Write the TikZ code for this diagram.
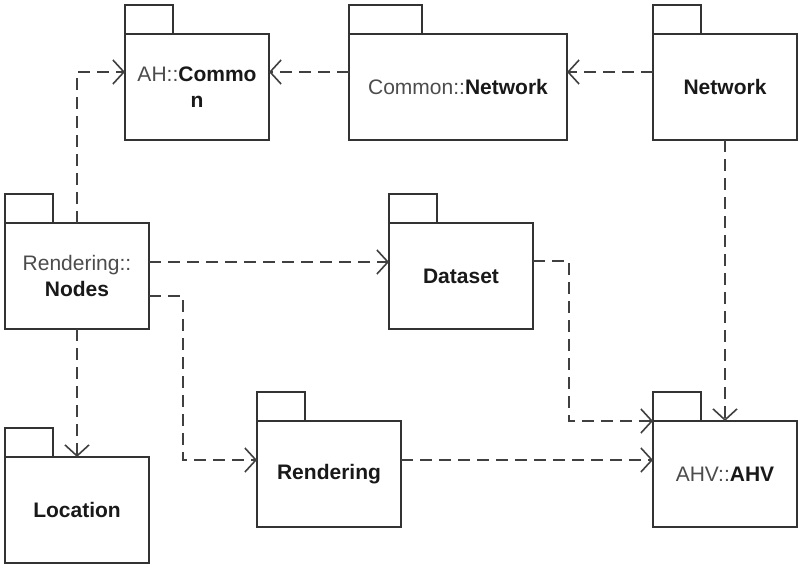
\documentclass[tikz,border=0pt]{standalone}
\usepackage{fontspec}
\setmainfont{Liberation Sans}
\usetikzlibrary{arrows.meta,calc}
\tikzset{
  pkg/.style={draw=black!80,line width=1.8pt,minimum width=144pt,minimum height=106pt,
    inner sep=0pt,outer sep=0pt,align=center,text=black!70,font=\fontsize{21}{26.5}\selectfont},
  dep/.style={draw=black!75,line width=1.6pt,dash pattern=on 12pt off 7pt,
    -{Straight Barb[length=11pt,width=24pt,line width=1.6pt]}}
}
\newcommand{\nm}[1]{\textbf{\color{black!90}#1}}
\begin{document}
\begin{tikzpicture}[x=1pt,y=-1pt]
\useasboundingbox[fill=white] (0,0) rectangle (799,564);
\node[pkg] (common) at (197,87) {AH::\nm{Commo}\\\nm{n}};
\node[pkg,minimum width=218pt] (cnet) at (458,87) {Common::\nm{Network}};
\node[pkg] (network) at (725,87) {\nm{Network}};
\node[pkg] (nodes) at (77,276) {Rendering::\\\nm{Nodes}};
\node[pkg] (dataset) at (461,276) {\nm{Dataset}};
\node[pkg] (location) at (77,510) {\nm{Location}};
\node[pkg] (rendering) at (329,474) {\nm{Rendering}};
\node[pkg] (ahv) at (725,474) {AHV::\nm{AHV}};
\foreach \n in {common,cnet,network,nodes,dataset,location,rendering,ahv}
  \draw[black!80,line width=1.8pt] (\n.north west) rectangle ([yshift=29pt]$(\n.north west)!1/3!(\n.north east)$);
\draw[dep] (nodes.north) |- ([yshift=15pt]common.west);
\draw[dep] ([yshift=15pt]cnet.west) -- ([yshift=15pt]common.east);
\draw[dep] ([yshift=15pt]network.west) -- ([yshift=15pt]cnet.east);
\draw[dep] (network.south) -- (ahv.north);
\draw[dep] ([yshift=14pt]nodes.east) -- ([yshift=14pt]dataset.west);
\draw[dep] ([yshift=-20pt]nodes.east) -- ++(34,0) |- ([yshift=14pt]rendering.west);
\draw[dep] (nodes.south) -- (location.north);
\draw[dep] ([yshift=15pt]dataset.east) -- ++(36,0) |- (ahv.north west);
\draw[dep] ([yshift=14pt]rendering.east) -- ([yshift=14pt]ahv.west);
\end{tikzpicture}
\end{document}
